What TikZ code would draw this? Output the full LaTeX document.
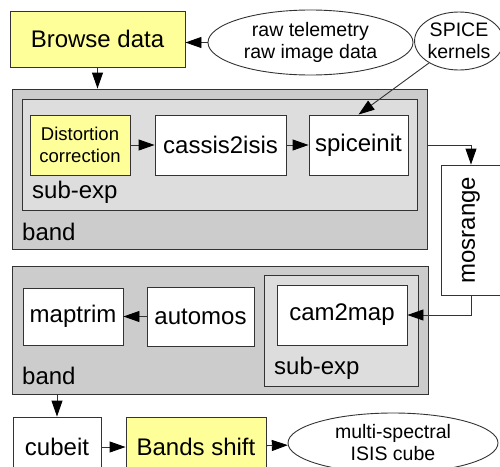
\documentclass[tikz,border=0pt]{standalone}
\usepackage{fontspec}
\usepackage{graphicx}
\setmainfont{Liberation Sans}
\usetikzlibrary{arrows.meta,shapes.geometric}
\definecolor{noteyellow}{HTML}{FFFF99}
\definecolor{bandgray}{HTML}{CCCCCC}
\definecolor{subgray}{HTML}{DDDDDD}
\definecolor{edgegray}{HTML}{333333}
\begin{document}
\begin{tikzpicture}[x=1pt,y=-1pt,
  box/.style={draw=edgegray,line width=0.9pt,fill=white,inner sep=0pt,
    font=\fontsize{24}{28}\selectfont},
  hilite/.style={box,fill=noteyellow},
  datafile/.style={ellipse,draw=edgegray,line width=0.9pt,fill=white,inner sep=0pt,
    align=center,font=\fontsize{19.5}{22}\selectfont},
  groupbox/.style={draw=edgegray,line width=0.9pt,fill=bandgray,inner sep=0pt},
  subbox/.style={groupbox,fill=subgray},
  grouplabel/.style={anchor=west,inner sep=0pt,font=\fontsize{24}{28}\selectfont},
  flow/.style={-{Triangle[length=16pt,width=11pt,color=black]},draw=edgegray,line width=0.9pt}]
  \useasboundingbox (0,0) rectangle (500,466);
  \clip (0,0) rectangle (500,466);

  % input data
  \node[hilite,minimum width=175,minimum height=56] (browse) at (97.5,39) {Browse data};
  \node[datafile,minimum width=205,minimum height=65] (rawdata) at (310.5,42.5) {raw telemetry\\raw image data};
  \node[datafile,minimum width=82,minimum height=58] (kernels) at (459,41) {SPICE\\kernels};

  % first band
  \node[groupbox,minimum width=415,minimum height=160] (band1) at (219.5,169) {};
  \node[subbox,minimum width=395,minimum height=111] (sub1) at (219.5,154.5) {};
  \node[hilite,minimum width=100,minimum height=60,align=center,
    font=\fontsize{18.5}{22}\selectfont] (distort) at (80,145) {Distortion\\correction};
  \node[box,minimum width=131,minimum height=60] (cassis) at (220.5,145) {cassis2isis};
  \node[box,minimum width=99,minimum height=60] (spiceinit) at (358.5,145) {spiceinit};
  \node[grouplabel] (sub1lbl) at (32,192) {sub-exp};
  \node[grouplabel] (band1lbl) at (22,232) {band};

  \node[box,minimum width=60,minimum height=130] (mosrange) at (471,230) {\rotatebox{90}{mosrange}};

  % second band
  \node[groupbox,minimum width=416,minimum height=128] (band2) at (220,330) {};
  \node[subbox,minimum width=154,minimum height=111] (sub2) at (341,330.5) {};
  \node[box,minimum width=130,minimum height=60] (cam2map) at (342,315) {cam2map};
  \node[box,minimum width=107,minimum height=59] (automos) at (200.5,316.5) {automos};
  \node[box,minimum width=100,minimum height=57] (maptrim) at (73,316.5) {maptrim};
  \node[grouplabel] (sub2lbl) at (274,368) {sub-exp};
  \node[grouplabel] (band2lbl) at (22,376) {band};

  % output
  \node[box,minimum width=88,minimum height=60] (cubeit) at (57,447) {cubeit};
  \node[hilite,minimum width=140,minimum height=60] (shift) at (196,447) {Bands shift};
  \node[datafile,minimum width=210,minimum height=60] (cube) at (393,443) {multi-spectral\\ISIS cube};

  \draw[flow] (rawdata.west) -- (rawdata.west -| browse.east);
  \draw[flow] (browse.south) -- (browse.south |- band1.north);
  \draw[flow] (kernels) -- (spiceinit.north);
  \draw[flow] (distort) -- (cassis);
  \draw[flow] (cassis) -- (spiceinit);
  \draw[flow] (spiceinit.east -| band1.east) -| (mosrange.north);
  \draw[flow] (mosrange.south) |- (cam2map.east);
  \draw[flow] (automos) -- (maptrim);
  \draw[flow] (band2.south -| cubeit.north) -- (cubeit.north);
  \draw[flow] (cubeit) -- (shift);
  \draw[flow] (shift) -- (cube);
\end{tikzpicture}
\end{document}
